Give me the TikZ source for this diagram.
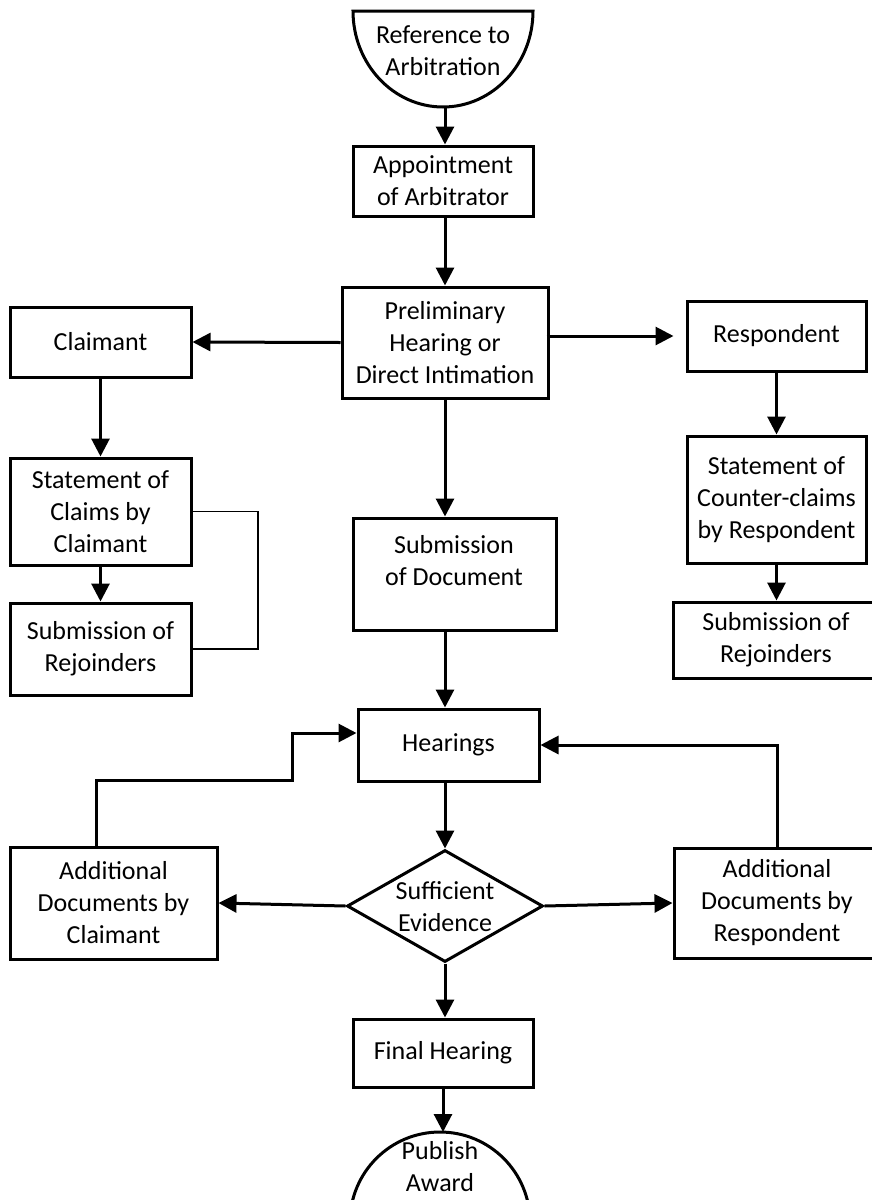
\documentclass[tikz,border=0pt]{standalone}
\usepackage{fontspec}
\setmainfont{Carlito}
\usetikzlibrary{arrows.meta,shapes.geometric}
\begin{document}
\begin{tikzpicture}[x=1pt,y=-1pt,
  box/.style={draw,line width=3pt,rectangle,inner sep=0pt,align=center,font=\fontsize{26}{32}\selectfont},
  txt/.style={align=center,inner sep=0pt,font=\fontsize{26}{32}\selectfont},
  arr/.style={line width=3pt,-{Triangle[length=18pt,width=18pt]}},
  thinline/.style={line width=1.2pt},
  outline/.style={line width=3pt}]
\useasboundingbox (0,0) rectangle (871,1200);

% terminal shapes
\draw[outline] (353,11) -- (533,11) arc[start angle=0,end angle=-180,x radius=90pt,y radius=96pt] -- cycle;
\node[txt] (ref) at (443,51) {Reference to\\Arbitration};
\coordinate (refbot) at (445,107);

\draw[outline] (350,1222) arc[start angle=180,end angle=0,x radius=90pt,y radius=90pt];
\node[txt] (pub) at (440,1167) {Publish\\Award};
\coordinate (pubtop) at (443,1132);

% boxes
\node[box,minimum width=180pt,minimum height=70pt] (appt) at (443,181) {Appointment\\of Arbitrator};
\node[box,minimum width=206pt,minimum height=111pt] (prelim) at (445,342.5) {Preliminary\\Hearing or\\Direct Intimation};
\node[box,minimum width=181pt,minimum height=70pt] (claimant) at (100.5,342) {Claimant};
\node[box,minimum width=181pt,minimum height=107pt] (stmtC) at (100.5,511.5) {Statement of\\Claims by\\Claimant};
\node[box,minimum width=181pt,minimum height=92pt] (subRejL) at (100.5,649) {Submission of\\Rejoinders};
\node[box,minimum width=203pt,minimum height=112pt] (subDoc) at (454.5,574) {};
\node[txt] (subDocText) at (454,561) {Submission\\of Document};
\node[box,minimum width=179pt,minimum height=70pt] (resp) at (776.5,336) {Respondent};
\node[box,minimum width=179pt,minimum height=127pt] (stmtR) at (776.5,499.5) {Statement of\\Counter-claims\\by Respondent};
\node[box,minimum width=206pt,minimum height=76pt] (subRejR) at (776,640) {Submission of\\Rejoinders};
\node[box,minimum width=181pt,minimum height=72pt] (hear) at (448.5,745) {Hearings};
\node[draw,diamond,line width=3pt,minimum width=196pt,minimum height=112pt,inner sep=0pt] (dec) at (445,906) {};
\node[txt] (decText) at (445,907) {Sufficient\\Evidence};
\node[box,minimum width=207pt,minimum height=112pt] (addC) at (113.5,903) {Additional\\Documents by\\Claimant};
\node[box,minimum width=206pt,minimum height=110pt] (addR) at (777,903) {Additional\\Documents by\\Respondent};
\node[box,minimum width=180pt,minimum height=68pt] (final) at (443,1053) {Final Hearing};

% connectors
\draw[arr] (refbot) -- (refbot |- appt.north);
\draw[arr] (refbot |- appt.south) -- (refbot |- prelim.north);
\draw[arr] (prelim.west) -- (claimant.east);
\draw[arr,shorten >=12pt] ([xshift=-3pt]prelim.east |- resp.west) -- (resp.west);
\draw[arr] (claimant.south) -- (stmtC.north);
\draw[arr] (stmtC.south) -- (subRejL.north);
\coordinate (brk) at (258,580);
\draw[thinline] (stmtC.east) -| (brk) |- (subRejL.east);
\draw[arr] (prelim.south) -- (prelim.south |- subDoc.north);
\draw[arr] (prelim.south |- subDoc.south) -- (prelim.south |- hear.north);
\draw[arr] (resp.south) -- (stmtR.north);
\draw[arr] (stmtR.south) -- (stmtR.south |- subRejR.north);
\draw[arr] (dec.north |- hear.south) -- (dec.north);
\coordinate (bendL) at (292,780);
\draw[arr] ([xshift=-17.5pt]addC.north) |- (bendL) |- ([yshift=12pt]hear.west);
\draw[arr] (addR.north) |- (hear.east);
\draw[arr] (dec.west) -- (addC.east);
\draw[arr] (dec.east) -- (addR.west);
\draw[arr] (dec.south) -- (dec.south |- final.north);
\draw[arr] (final.south) -- (pubtop);
\end{tikzpicture}
\end{document}
